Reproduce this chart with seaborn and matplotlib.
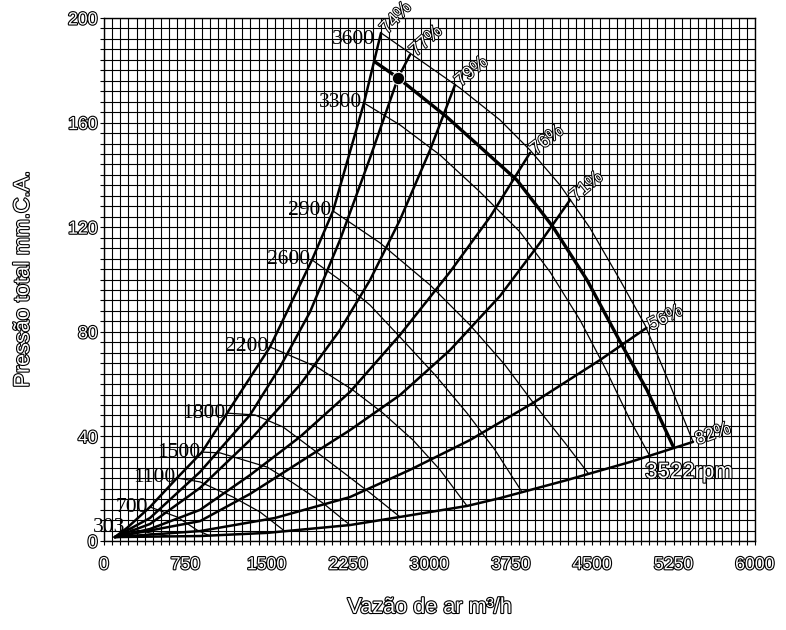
import matplotlib
matplotlib.use("Agg")
import matplotlib.pyplot as plt
import matplotlib.patheffects as pe
from matplotlib import font_manager
from matplotlib.ticker import MultipleLocator
import pandas as pd
import seaborn as sns

# axis ticks
x_ticks = [0, 750, 1500, 2250, 3000, 3750, 4500, 5250, 6000]
y_ticks = [0, 40, 80, 120, 160, 200]

# system curves (vazao m3/h, pressao mm.C.A.)
eff_names = ["74%", "77%", "79%", "76%", "71%", "56%", "82%"]
flow_74 = [100, 212, 424, 673, 903, 1134, 1530, 1917, 2111, 2396, 2553]
press_74 = [1.5, 5.0, 13.0, 24.1, 34.0, 48.9, 74.2, 107.5, 126.2, 167.5, 194.3]
flow_77 = [100, 424, 885, 1346, 1622, 1899, 2175, 2452, 2710, 2820]
press_77 = [1.5, 8.8, 26.4, 48.2, 66.5, 87.6, 115.1, 146.5, 177.1, 185.9]
flow_79 = [100, 424, 885, 1346, 1806, 2175, 2452, 2728, 3005, 3235]
press_79 = [1.5, 6.5, 20.3, 38.6, 59.7, 80.7, 99.8, 122.8, 149.5, 174.4]
flow_76 = [100, 424, 885, 1346, 1806, 2267, 2728, 3189, 3558, 3926]
press_76 = [1.5, 4.6, 11.9, 25.2, 39.8, 57.0, 78.8, 102.9, 123.9, 148.4]
flow_71 = [100, 885, 1346, 1806, 2267, 2728, 3189, 3650, 4018, 4295]
press_71 = [1.5, 7.6, 18.0, 30.2, 42.4, 55.8, 73.0, 93.7, 114.0, 130.4]
flow_56 = [100, 885, 1576, 2267, 2820, 3373, 3954, 4571, 5000]
press_56 = [1.5, 3.8, 8.8, 16.8, 27.2, 38.6, 52.8, 69.2, 81.5]
flow_82 = [100, 885, 1502, 2267, 2728, 3346, 3650, 4267, 4848, 5429]
press_82 = [1.5, 1.9, 3.1, 6.1, 9.2, 13.4, 16.4, 23.3, 30.2, 37.9]

# constant speed lines (rpm)
rpm_names = ["3600", "3300", "2900", "2600", "2200", "1800", "1500", "1100", "700", "303"]
flow_3600 = [2553, 2912, 3281, 3650, 3926, 4203, 4479, 4756, 4986, 5217, 5429]
press_3600 = [194.3, 183.9, 173.2, 161.0, 149.5, 136.1, 119.7, 99.8, 82.6, 59.7, 37.9]
flow_3300 = [2396, 2728, 3097, 3465, 3834, 4111, 4387, 4618, 4848, 5032]
press_3300 = [167.5, 159.1, 147.6, 133.5, 118.2, 102.9, 84.5, 66.2, 46.3, 32.4]
flow_2900 = [2111, 2544, 3005, 3373, 3696, 3972, 4249, 4470]
press_2900 = [126.2, 114.0, 97.9, 82.6, 67.3, 52.0, 37.5, 25.5]
flow_2600 = [1917, 2175, 2452, 2728, 3051, 3346, 3604, 3853]
press_2600 = [107.5, 99.8, 90.2, 78.0, 63.5, 48.9, 34.8, 18.7]
flow_2200 = [1530, 1963, 2295, 2571, 2848, 3097, 3346]
press_2200 = [74.2, 66.5, 57.7, 48.9, 38.6, 27.2, 13.4]
flow_1800 = [1134, 1392, 1650, 1899, 2175, 2452, 2728]
press_1800 = [48.9, 48.2, 43.6, 35.9, 27.2, 18.4, 9.2]
flow_1500 = [903, 1069, 1502, 1742, 2018, 2267]
press_1500 = [34.0, 33.7, 28.3, 22.2, 14.5, 6.1]
flow_1100 = [673, 885, 1189, 1438, 1668]
press_1100 = [24.1, 22.6, 16.8, 11.1, 3.7]
flow_700 = [424, 673, 857, 977]
press_700 = [13.0, 9.2, 4.2, 1.9]
flow_303 = [212, 424, 590]
press_303 = [5.0, 3.1, 1.9]

# selected speed 3522 rpm and operating point
flow_3522 = [2498, 2710, 3161, 3806, 4138, 4452, 4783, 5005, 5244]
press_3522 = [183.2, 177.1, 162.1, 138.0, 120.1, 99.8, 74.2, 57.7, 36.3]
op_flow = [2710]
op_press = [177.1]

eff_flows = [flow_74, flow_77, flow_79, flow_76, flow_71, flow_56, flow_82]
eff_press = [press_74, press_77, press_79, press_76, press_71, press_56, press_82]
rpm_flows = [flow_3600, flow_3300, flow_2900, flow_2600, flow_2200,
             flow_1800, flow_1500, flow_1100, flow_700, flow_303]
rpm_press = [press_3600, press_3300, press_2900, press_2600, press_2200,
             press_1800, press_1500, press_1100, press_700, press_303]


def long_table(names, xs, ys):
    rows = []
    for name, xx, yy in zip(names, xs, ys):
        for i, (a, b) in enumerate(zip(xx, yy)):
            rows.append({"curve": name, "order": i, "flow": a, "press": b})
    return pd.DataFrame(rows)


eff_df = long_table(eff_names, eff_flows, eff_press)
rpm_df = long_table(rpm_names, rpm_flows, rpm_press)
sel_df = long_table(["3522"], [flow_3522], [press_3522])

sns.set_theme(style="white")
names = {f.name for f in font_manager.fontManager.ttflist}
k = 1.0 if "Liberation Sans Narrow" in names else 0.82
plt.rcParams["font.family"] = ["Liberation Sans Narrow", "Liberation Sans", "DejaVu Sans"]

hollow = [pe.withStroke(linewidth=1.6, foreground="black")]

fig, ax = plt.subplots(figsize=(7.86, 6.3), dpi=100)
fig.subplots_adjust(left=104 / 786, right=755 / 786, bottom=89 / 630, top=612 / 630)

# curves
sns.lineplot(data=eff_df, x="flow", y="press", units="curve", estimator=None,
             sort=False, color="black", linewidth=1.8, legend=False, ax=ax, zorder=3)
sns.lineplot(data=rpm_df, x="flow", y="press", units="curve", estimator=None,
             sort=False, color="black", linewidth=0.9, legend=False, ax=ax, zorder=3)
sns.lineplot(data=sel_df, x="flow", y="press", units="curve", estimator=None,
             sort=False, color="black", linewidth=2.4, legend=False, ax=ax, zorder=4)
sns.scatterplot(x=op_flow, y=op_press, s=80, color="black", ax=ax, zorder=5,
                legend=False)

# grid
ax.set_xlim(0, 6000)
ax.set_ylim(0, 200)
ax.set_xticks(x_ticks, [str(t) for t in x_ticks])
ax.set_yticks(y_ticks, [str(t) for t in y_ticks])
ax.xaxis.set_minor_locator(MultipleLocator(75))
ax.yaxis.set_minor_locator(MultipleLocator(4))
ax.grid(which="both", color="black", linewidth=0.8)
ax.set_axisbelow(True)
ax.tick_params(which="both", direction="out", length=3, width=0.8, color="black",
               bottom=True, left=True)
ax.tick_params(axis="x", pad=8, labelsize=15.5 * k, labelcolor="white")
ax.tick_params(axis="y", pad=1.5, labelsize=15.5 * k, labelcolor="white")
for lbl in ax.get_xticklabels() + ax.get_yticklabels():
    lbl.set_path_effects(hollow)
for s in ax.spines.values():
    s.set_color("black")
    s.set_linewidth(1.0)

ax.set_xlabel("Vazão de ar m³/h", fontsize=19 * k, color="white", path_effects=hollow)
ax.set_ylabel("Pressão total mm.C.A.", fontsize=19 * k, color="white", path_effects=hollow)
ax.xaxis.set_label_coords(0.5, -0.107)
ax.yaxis.set_label_coords(-0.108, 0.5)

# efficiency labels at the end of each system curve
eff_rot = {"74%": 47, "77%": 42, "79%": 40, "76%": 38, "71%": 40, "56%": 27, "82%": 20}
for name, xx, yy in zip(eff_names, eff_flows, eff_press):
    ax.annotate(name, xy=(xx[-1], yy[-1]), xytext=(2, 1), textcoords="offset points",
                rotation=eff_rot[name], rotation_mode="anchor", ha="left", va="center",
                fontsize=16 * k, color="white",
                path_effects=[pe.withStroke(linewidth=1.4, foreground="black")],
                annotation_clip=False, zorder=6)

# rpm labels at the start of each speed line
for name, xx, yy in zip(rpm_names, rpm_flows, rpm_press):
    off = (-4, -5) if name == "3600" else (-1.5, 0)
    ax.annotate(name, xy=(xx[0], yy[0]), xytext=off, textcoords="offset points",
                ha="right", va="center", fontsize=15.5, family="Liberation Serif",
                color="black", annotation_clip=False, zorder=6)

ax.annotate("3522rpm", xy=(flow_3522[-1], press_3522[-1]), xytext=(-20, -19),
            textcoords="offset points", ha="left", va="center", fontsize=19.5 * k,
            color="white", path_effects=hollow, zorder=6)

fig.savefig("out.png", dpi=100)
